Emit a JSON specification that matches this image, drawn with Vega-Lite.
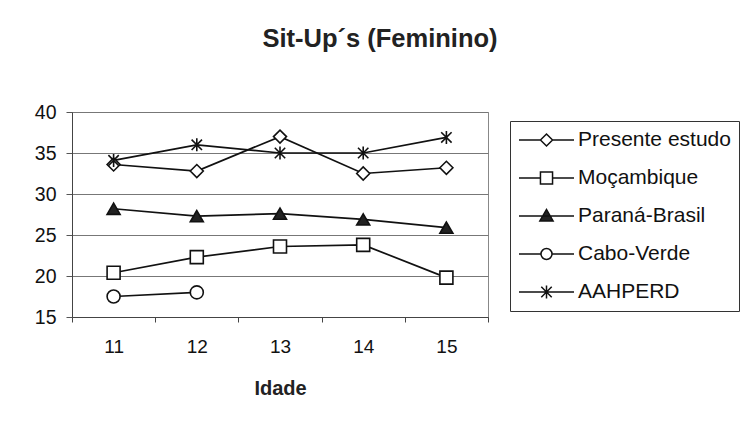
{
  "$schema": "https://vega.github.io/schema/vega-lite/v6.json",
  "width": 416,
  "height": 205,
  "autosize": {"type": "none"},
  "padding": {"left": 72, "top": 112, "right": 254, "bottom": 117},
  "background": "white",
  "title": {
    "text": "Sit-Up´s (Feminino)",
    "font": "Liberation Sans",
    "fontSize": 25.5,
    "fontWeight": "bold",
    "color": "#222",
    "anchor": "middle",
    "frame": "group",
    "dx": 100,
    "offset": 50
  },
  "data": {
    "values": [
      {"serie": "Presente estudo", "idade": "11", "v": 33.6},
      {"serie": "Presente estudo", "idade": "12", "v": 32.8},
      {"serie": "Presente estudo", "idade": "13", "v": 37.0},
      {"serie": "Presente estudo", "idade": "14", "v": 32.5},
      {"serie": "Presente estudo", "idade": "15", "v": 33.2},
      {"serie": "Moçambique", "idade": "11", "v": 20.4},
      {"serie": "Moçambique", "idade": "12", "v": 22.3},
      {"serie": "Moçambique", "idade": "13", "v": 23.6},
      {"serie": "Moçambique", "idade": "14", "v": 23.8},
      {"serie": "Moçambique", "idade": "15", "v": 19.8},
      {"serie": "Paraná-Brasil", "idade": "11", "v": 28.2},
      {"serie": "Paraná-Brasil", "idade": "12", "v": 27.3},
      {"serie": "Paraná-Brasil", "idade": "13", "v": 27.6},
      {"serie": "Paraná-Brasil", "idade": "14", "v": 26.9},
      {"serie": "Paraná-Brasil", "idade": "15", "v": 25.9},
      {"serie": "Cabo-Verde", "idade": "11", "v": 17.5},
      {"serie": "Cabo-Verde", "idade": "12", "v": 18.0},
      {"serie": "AAHPERD", "idade": "11", "v": 34.1},
      {"serie": "AAHPERD", "idade": "12", "v": 36.0},
      {"serie": "AAHPERD", "idade": "13", "v": 35.0},
      {"serie": "AAHPERD", "idade": "14", "v": 35.0},
      {"serie": "AAHPERD", "idade": "15", "v": 36.9}
    ]
  },
  "encoding": {
    "x": {
      "field": "idade",
      "type": "ordinal",
      "scale": {"type": "band", "paddingInner": 0, "paddingOuter": 0},
      "axis": {
        "title": "Idade",
        "labelAngle": 0,
        "tickBand": "extent",
        "grid": false,
        "domainColor": "#444",
        "tickColor": "#444",
        "tickSize": 5,
        "labelFontSize": 19,
        "labelColor": "#111",
        "labelPadding": 15,
        "titleFontSize": 20,
        "titleFontWeight": "bold",
        "titleColor": "#222",
        "titlePadding": 22
      }
    },
    "y": {
      "field": "v",
      "type": "quantitative",
      "scale": {"domain": [15, 40], "nice": false, "zero": false},
      "axis": {
        "title": null,
        "values": [15, 20, 25, 30, 35, 40],
        "grid": true,
        "gridColor": "#777",
        "domainColor": "#444",
        "tickColor": "#555",
        "tickSize": 6,
        "labelFontSize": 19.5,
        "labelColor": "#111",
        "labelPadding": 10
      }
    }
  },
  "layer": [
    {
      "mark": {"type": "line", "color": "#111", "strokeWidth": 1.7},
      "encoding": {"detail": {"field": "serie"}}
    },
    {
      "mark": {"type": "point", "filled": true, "size": 169, "stroke": "#111", "strokeWidth": 1.6, "opacity": 1},
      "encoding": {
        "shape": {
          "field": "serie",
          "scale": {
            "domain": ["Presente estudo", "Moçambique", "Paraná-Brasil", "Cabo-Verde", "AAHPERD"],
            "range": ["diamond", "square", "triangle-up", "circle", "M0,-1V1M-0.8,-0.8L0.8,0.8M-0.8,0.8L0.8,-0.8"]
          },
          "legend": null
        },
        "fill": {
          "field": "serie",
          "scale": {
            "domain": ["Presente estudo", "Moçambique", "Paraná-Brasil", "Cabo-Verde", "AAHPERD"],
            "range": ["white", "white", "#222", "white", "white"]
          },
          "legend": null
        }
      }
    },
    {
      "transform": [{"filter": "datum.v < 0"}],
      "mark": {"type": "point", "filled": true, "stroke": "#111", "strokeWidth": 1.5, "opacity": 1},
      "encoding": {
        "shape": {
          "field": "serie",
          "scale": {
            "domain": ["Presente estudo", "Moçambique", "Paraná-Brasil", "Cabo-Verde", "AAHPERD"],
            "range": [
              "M-1,0H-0.22M0.22,0H1M-0.22,0L0,-0.22L0.22,0L0,0.22Z",
              "M-1,0H-0.22M0.22,0H1M-0.22,-0.22H0.22V0.22H-0.22Z",
              "M-1,0H1M-0.24,0.18L0,-0.24L0.24,0.18Z",
              "M-1,0H-0.2M0.2,0H1M-0.2,0A0.2,0.2,0,1,1,0.2,0A0.2,0.2,0,1,1,-0.2,0Z",
              "M-1,0H1M0,-0.24V0.24M-0.19,-0.19L0.19,0.19M-0.19,0.19L0.19,-0.19"
            ]
          },
          "legend": {
            "encode": {
              "symbols": {
                "update": {
                  "stroke": {"value": "#111"},
                  "strokeWidth": {"value": 1.5},
                  "opacity": {"value": 1}
                }
              }
            }
          }
        },
        "fill": {
          "field": "serie",
          "scale": {
            "domain": ["Presente estudo", "Moçambique", "Paraná-Brasil", "Cabo-Verde", "AAHPERD"],
            "range": ["white", "white", "#222", "white", "white"]
          },
          "legend": {
            "encode": {
              "symbols": {
                "update": {
                  "stroke": {"value": "#111"},
                  "strokeWidth": {"value": 1.5},
                  "opacity": {"value": 1}
                }
              }
            }
          }
        }
      }
    }
  ],
  "resolve": {"scale": {"shape": "independent", "fill": "independent"}},
  "config": {
    "font": "Liberation Sans",
    "view": {"stroke": "#888", "strokeWidth": 1},
    "legend": {
      "orient": "none",
      "legendX": 438,
      "legendY": 9,
      "title": null,
      "labelFont": "Liberation Sans",
      "labelFontSize": 21,
      "labelColor": "#111",
      "symbolSize": 3025,
      "symbolStrokeColor": "#111",
      "symbolStrokeWidth": 1.5,
      "symbolOpacity": 1,
      "clipHeight": 22,
      "rowPadding": 16,
      "labelOffset": 3,
      "padding": 8,
      "strokeColor": "#333"
    }
  }
}
